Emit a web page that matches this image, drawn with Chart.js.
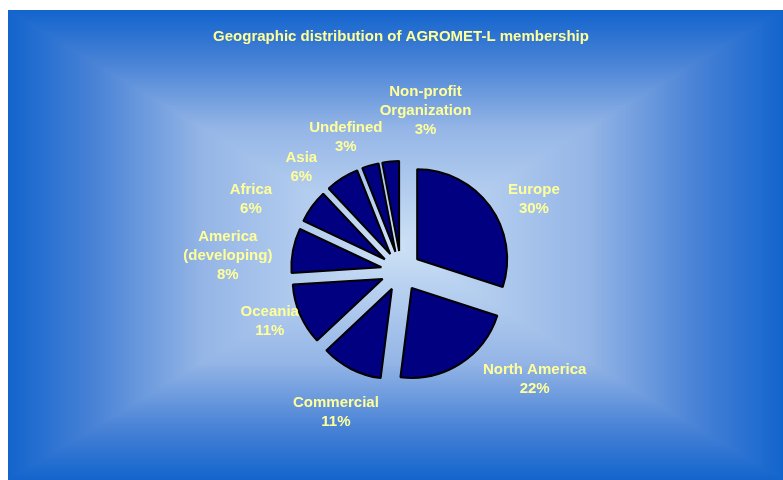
<!DOCTYPE html>
<html>
<head>
<meta charset="utf-8">
<script src="https://cdn.jsdelivr.net/npm/chart.js@4.4.1/dist/chart.umd.min.js"></script>
<style>
  html, body { margin: 0; padding: 0; background: #fff; }
  #wrap { width: 783px; height: 480px; position: relative; }
</style>
</head>
<body>
<div id="wrap"><canvas id="pie"></canvas></div>
<script>
// data
const categories = ['Europe', 'North America', 'Commercial', 'Oceania', 'America\n(developing)',
  'Africa', 'Asia', 'Undefined', 'Non-profit\nOrganization'];
const shares = [30, 22, 11, 11, 8, 6, 6, 3, 3];

// label placement, relative to each slice's middle angle
const labelShift = [7, -19, -2, 3, -5.3, -10, -11, -6, 14];
const labelDist = [152, 171, 154, 140, 174, 167, 145, 146, 164];

const yellow = '#ffff99';
const fontFamily = "'Liberation Sans', Arial, sans-serif";
const explode = 20; // every slice pulled out by this many px

// rectangular "from centre" gradient like the old office backdrop
const stops = [
  [0, [205, 225, 246]],
  [0.5, [148, 181, 230]],
  [0.78, [72, 130, 214]],
  [1, [18, 100, 205]]
];
function gradColor(t) {
  for (let k = 1; k < stops.length; k++) {
    if (t <= stops[k][0]) {
      const a = stops[k - 1], b = stops[k];
      const f = (t - a[0]) / (b[0] - a[0]);
      return a[1].map((v, j) => v + (b[1][j] - v) * f);
    }
  }
  return stops[stops.length - 1][1];
}

const backdrop = {
  id: 'backdrop',
  beforeDraw(chart) {
    const ctx = chart.ctx;
    const x0 = 8, y0 = 10, w = chart.width - x0, h = chart.height - y0;
    ctx.save();
    ctx.fillStyle = '#fff';
    ctx.fillRect(0, 0, chart.width, chart.height);
    ctx.restore();
    const img = ctx.createImageData(w, h);
    const hw = w / 2, hh = h / 2;
    for (let y = 0; y < h; y++) {
      const ty = Math.abs(y + 0.5 - hh) / hh;
      for (let x = 0; x < w; x++) {
        const tx = Math.abs(x + 0.5 - hw) / hw;
        const c = gradColor(Math.max(tx, ty));
        const p = (y * w + x) * 4;
        img.data[p] = c[0];
        img.data[p + 1] = c[1];
        img.data[p + 2] = c[2];
        img.data[p + 3] = 255;
      }
    }
    ctx.putImageData(img, x0, y0);
  }
};

// draw each arc pushed out along its middle angle
const explodeSlices = {
  id: 'explodeSlices',
  beforeDatasetDraw(chart, args) {
    const ctx = chart.ctx;
    args.meta.data.forEach(arc => {
      const mid = (arc.startAngle + arc.endAngle) / 2;
      ctx.save();
      ctx.translate(Math.cos(mid) * explode, Math.sin(mid) * explode);
      arc.draw(ctx, chart.chartArea);
      ctx.restore();
    });
    return false;
  }
};

const sliceLabels = {
  id: 'sliceLabels',
  afterDatasetsDraw(chart) {
    const ctx = chart.ctx;
    const meta = chart.getDatasetMeta(0);
    ctx.save();
    ctx.fillStyle = yellow;
    ctx.font = 'bold 15px ' + fontFamily;
    ctx.textAlign = 'center';
    ctx.textBaseline = 'middle';
    const lh = 19;
    meta.data.forEach((arc, i) => {
      const mid = (arc.startAngle + arc.endAngle) / 2 + labelShift[i] * Math.PI / 180;
      const x = arc.x + Math.cos(mid) * labelDist[i];
      const y = arc.y + Math.sin(mid) * labelDist[i] + 2;
      const lines = categories[i].split('\n').concat([shares[i] + '%']);
      const top = y - (lines.length - 1) * lh / 2;
      lines.forEach((s, k) => ctx.fillText(s, x, top + k * lh));
    });
    ctx.restore();
  }
};

new Chart(document.getElementById('pie'), {
  type: 'pie',
  data: {
    labels: categories.map(c => c.replace('\n', ' ')),
    datasets: [{
      data: shares,
      backgroundColor: '#000080',
      borderColor: '#000000',
      borderWidth: 2
    }]
  },
  options: {
    responsive: true,
    maintainAspectRatio: false,
    animation: false,
    events: [],
    radius: 90,
    layout: { padding: { left: 120, right: 101, top: 8, bottom: 53 } },
    plugins: {
      legend: { display: false },
      tooltip: { enabled: false },
      title: {
        display: true,
        text: 'Geographic distribution of AGROMET-L membership',
        color: yellow,
        font: { family: fontFamily, size: 15, weight: 'bold' },
        padding: { top: 20, bottom: 69 }
      }
    }
  },
  plugins: [backdrop, explodeSlices, sliceLabels]
});
</script>
</body>
</html>
